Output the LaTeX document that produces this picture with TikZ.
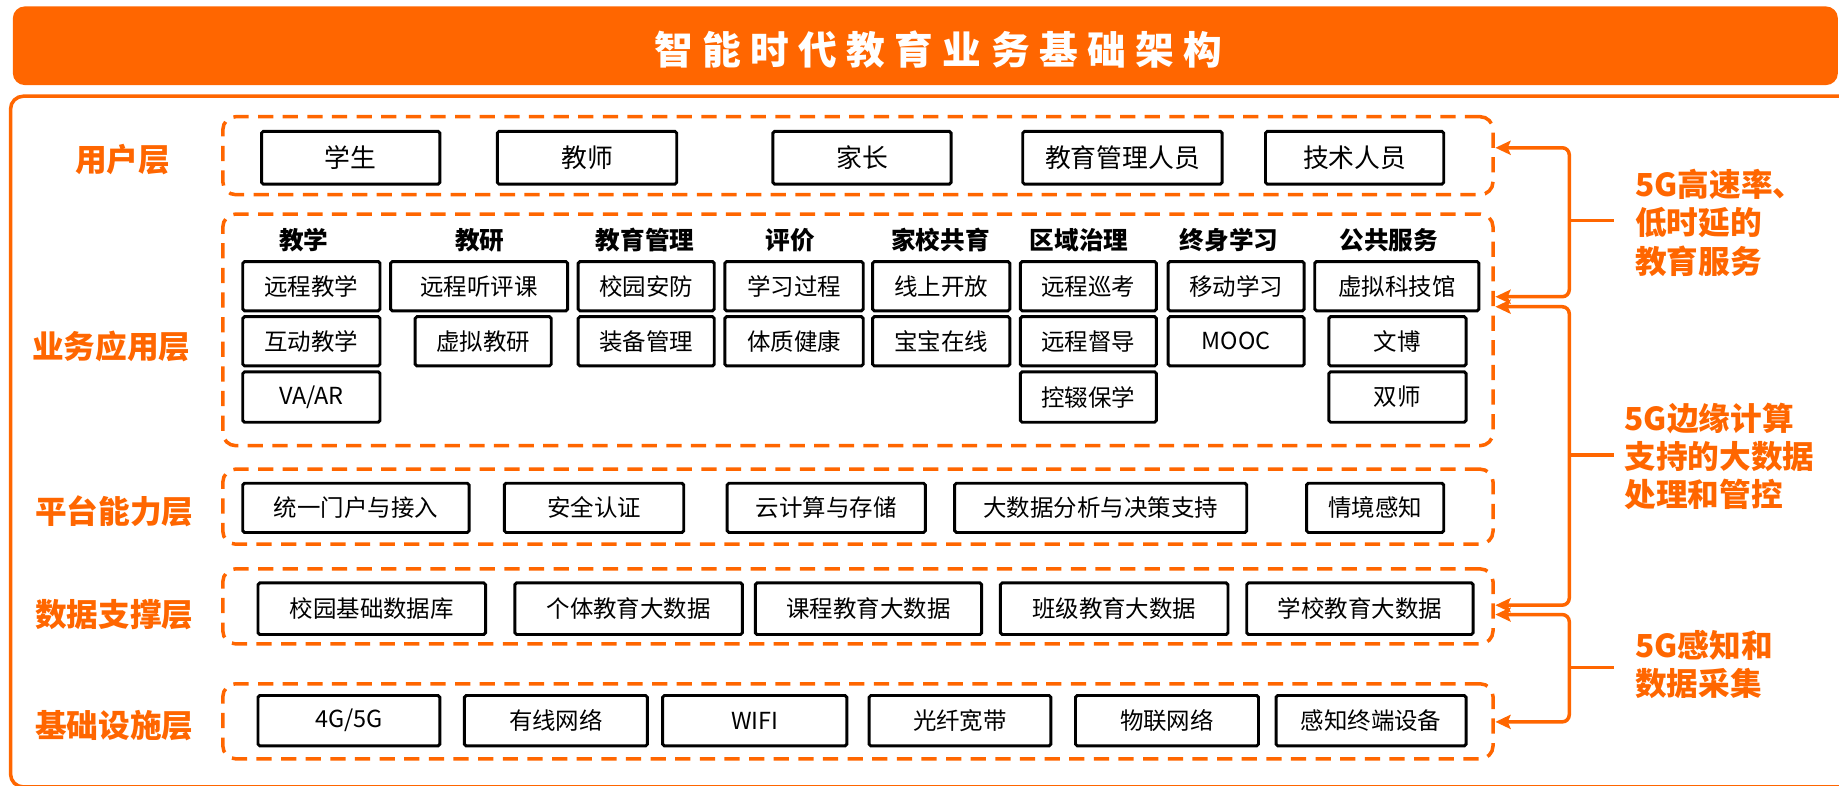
\documentclass[tikz,border=0pt]{standalone}
\usepackage{fontspec}
\setmainfont{Noto Sans CJK SC}
\usetikzlibrary{arrows.meta}
\definecolor{og}{HTML}{FF6600}
\newcommand\mybox[6]{\node[bxs, minimum width={#3-#2}, minimum height={#5-#4}] (#1) at ({(#2+#3)/2},{(#4+#5)/2}) {#6};}
\newcommand\mylayer[5]{\node[lay, minimum width={#3-#2}, minimum height={#5-#4}] (#1) at ({(#2+#3)/2},{(#4+#5)/2}) {};}
\begin{document}
\begin{tikzpicture}[x=1pt,y=-1pt,
 bxs/.style={draw=black, line width=2.5pt, rounded corners=1.5pt, inner sep=0pt, font=\fontsize{20}{24}\selectfont},
 ubx/.style={bxs, font=\fontsize{22}{26}\selectfont},
 lay/.style={draw=og, line width=3pt, dash pattern=on 13pt off 8pt, rounded corners=11pt, inner sep=0pt},
 lab/.style={text=og, inner sep=0pt, font=\fontsize{27}{32}\selectfont\bfseries},
 rlab/.style={lab, anchor=west, align=left, font=\fontsize{27}{32.5}\selectfont\bfseries},
 hdr/.style={inner sep=0pt, font=\fontsize{21}{24}\selectfont\bfseries},
 brk/.style={draw=og, line width=3pt, rounded corners=6pt},
 dtip/.style={{Stealth[length=13pt,width=12pt,inset=2.5pt]}-{Stealth[length=13pt,width=12pt,inset=2.5pt]}}
]
\useasboundingbox (0,0) rectangle (1568,670);
\clip (0,0) rectangle (1568,670);
% title
\node[fill=og, rounded corners=10pt, minimum width=1556pt, minimum height=67pt, inner sep=0pt] (titlebar) at (789,39) {};
\node[text=white, inner sep=0pt, font=\fontsize{33}{36}\selectfont\bfseries] (title) at (800,42.5)
 {智\kern8pt 能\kern8pt 时\kern8pt 代\kern8pt 教\kern8pt 育\kern8pt 业\kern8pt 务\kern8pt 基\kern8pt 础\kern8pt 架\kern8pt 构};
% outer frame (right and bottom run off the picture)
\draw[og, line width=3pt, rounded corners=11pt] (1700,82) -- (9,82) -- (9,671) -- (1700,671);
% layers
\mylayer{L1}{190}{1273}{99.5}{166}
\mylayer{L2}{190}{1273}{182.5}{380}
\mylayer{L3}{190}{1273}{400}{464}
\mylayer{L4}{190}{1273}{485}{549}
\mylayer{L5}{190}{1273}{583}{647}
% layer labels
\node[lab] (n1) at (104.5,136) {用户层};
\node[lab] (n2) at (95,295) {业务应用层};
\node[lab] (n3) at (97.6,436) {平台能力层};
\node[lab] (n4) at (97.6,524) {数据支撑层};
\node[lab] (n5) at (97.6,619) {基础设施层};
% user layer
\node[ubx, minimum width=152pt, minimum height=45pt] (u1) at (299,134.5) {学生};
\node[ubx, minimum width=153pt, minimum height=45pt] (u2) at (500.5,134.5) {教师};
\node[ubx, minimum width=152pt, minimum height=45pt] (u3) at (735,134.5) {家长};
\node[ubx, minimum width=170pt, minimum height=45pt] (u4) at (957,134.5) {教育管理人员};
\node[ubx, minimum width=152pt, minimum height=45pt] (u5) at (1155,134.5) {技术人员};
% business headers
\node[hdr] (h1) at (259,205) {教学};
\node[hdr] (h2) at (409,205) {教研};
\node[hdr] (h3) at (550,205) {教育管理};
\node[hdr] (h4) at (674,205) {评价};
\node[hdr] (h5) at (802,205) {家校共育};
\node[hdr] (h6) at (920,205) {区域治理};
\node[hdr] (h7) at (1048,205) {终身学习};
\node[hdr] (h8) at (1184,205) {公共服务};
% business boxes
\mybox{a11}{207}{324}{223}{265}{远程教学}
\mybox{a12}{207}{324}{270}{312}{互动教学}
\mybox{a13}{207}{324}{317}{360}{VA/AR}
\mybox{a21}{333}{484}{223}{265}{远程听评课}
\mybox{a22}{354}{470}{270}{312}{虚拟教研}
\mybox{a31}{493}{609}{223}{265}{校园安防}
\mybox{a32}{493}{609}{270}{312}{装备管理}
\mybox{a41}{618}{736}{223}{265}{学习过程}
\mybox{a42}{618}{736}{270}{312}{体质健康}
\mybox{a51}{744}{861}{223}{265}{线上开放}
\mybox{a52}{744}{861}{270}{312}{宝宝在线}
\mybox{a61}{870}{986}{223}{265}{远程巡考}
\mybox{a62}{870}{986}{270}{312}{远程督导}
\mybox{a63}{870}{986}{317}{360}{控辍保学}
\mybox{a71}{996}{1112}{223}{265}{移动学习}
\mybox{a72}{996}{1112}{270}{312}{MOOC}
\mybox{a81}{1121}{1261}{223}{265}{虚拟科技馆}
\mybox{a82}{1133}{1250}{270}{312}{文博}
\mybox{a83}{1133}{1250}{317}{360}{双师}
% platform
\mybox{p1}{207}{400}{412}{454}{统一门户与接入}
\mybox{p2}{430}{583}{412}{454}{安全认证}
\mybox{p3}{620}{789}{412}{454}{云计算与存储}
\mybox{p4}{814}{1063}{412}{454}{大数据分析与决策支持}
\mybox{p5}{1114}{1231}{412}{454}{情境感知}
% data
\mybox{d1}{220}{414}{497}{541}{校园基础数据库}
\mybox{d2}{439}{633}{497}{541}{个体教育大数据}
\mybox{d3}{644}{837}{497}{541}{课程教育大数据}
\mybox{d4}{853}{1047}{497}{541}{班级教育大数据}
\mybox{d5}{1063}{1256}{497}{541}{学校教育大数据}
% infrastructure
\mybox{i1}{220}{375}{593}{636}{4G/5G}
\mybox{i2}{396}{552}{593}{636}{有线网络}
\mybox{i3}{565}{722}{593}{636}{WIFI}
\mybox{i4}{741}{896}{593}{636}{光纤宽带}
\mybox{i5}{917}{1073}{593}{636}{物联网络}
\mybox{i6}{1088}{1250}{593}{636}{感知终端设备}
% brackets
\coordinate (vx) at (1338,0);
\coordinate (b1a) at (1275,126);
\coordinate (b1b) at (1275,253);
\coordinate (b2a) at (1275,261.5);
\coordinate (b2b) at (1275,516);
\coordinate (b3a) at (1275,524);
\coordinate (b3b) at (1275,615.5);
\coordinate (t1) at (1376,188);
\coordinate (t2) at (1376,388);
\coordinate (t3) at (1376,569);
\draw[brk, dtip] (b1a) -- (b1a -| vx) -- (b1b -| vx) -- (b1b);
\draw[brk, dtip] (b2a) -- (b2a -| vx) -- (b2b -| vx) -- (b2b);
\draw[brk, dtip] (b3a) -- (b3a -| vx) -- (b3b -| vx) -- (b3b);
\draw[brk] (t1 -| vx) -- (t1);
\draw[brk] (t2 -| vx) -- (t2);
\draw[brk] (t3 -| vx) -- (t3);
\node[rlab] (r1) at (1394,190) {5G高速率、\\低时延的\\教育服务};
\node[rlab] (r2) at (1385,389) {5G边缘计算\\支持的大数据\\处理和管控};
\node[rlab] (r3) at (1394,566.5) {5G感知和\\数据采集};
\end{tikzpicture}
\end{document}
